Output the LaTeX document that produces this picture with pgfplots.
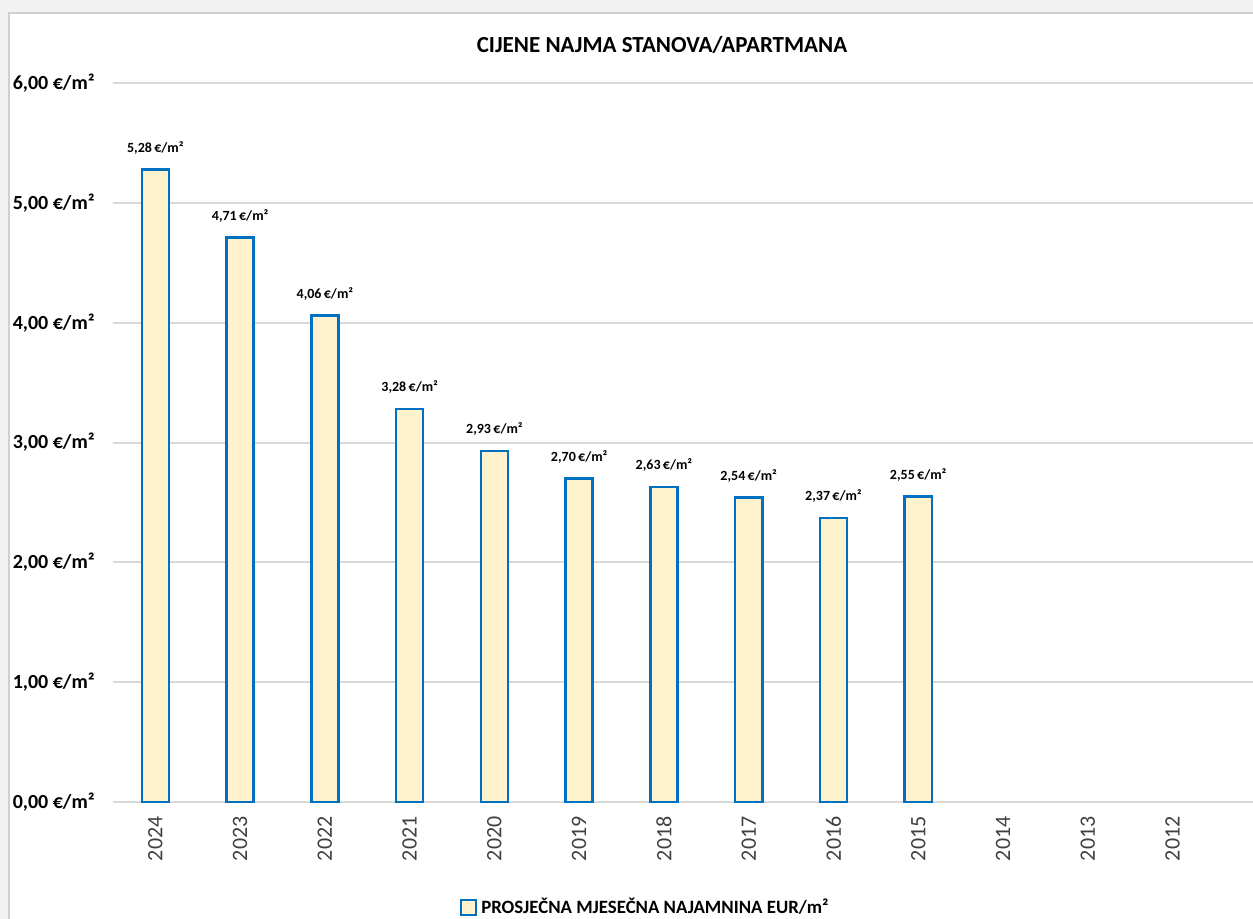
\documentclass[border=0pt]{standalone}
\usepackage{pgfplots}
\pgfplotsset{compat=1.18}
\usepackage{fontspec}
\setmainfont{Carlito}
\definecolor{barfill}{HTML}{FFF2CC}
\definecolor{barline}{HTML}{0070C0}
\definecolor{gridc}{HTML}{D9D9D9}
\definecolor{framec}{HTML}{D0D0D0}
\definecolor{shadec}{HTML}{F2F2F2}
\definecolor{ticktxt}{HTML}{404040}

\begin{document}
\begin{tikzpicture}
% 1 px of the reference = 0.5pt, y downwards
\useasboundingbox (0pt,0pt) rectangle (626.5pt,-459.5pt);
\fill[white] (0pt,0pt) rectangle (626.5pt,-459.5pt);
\fill[shadec] (0pt,0pt) -- (626.5pt,0pt) -- (626.5pt,-6.5pt) -- (4.5pt,-6.5pt)
  -- (4.5pt,-459.5pt) -- (0pt,-459.5pt) -- cycle;
\draw[framec, line width=0.8pt] (4.5pt,-463pt) -- (4.5pt,-6.5pt) -- (630pt,-6.5pt);

\node[font=\bfseries\fontsize{11.5}{13}\selectfont] at (331pt,-22.5pt) {CIJENE NAJMA STANOVA/APARTMANA};

\begin{axis}[
  at={(56.5pt,-401pt)}, anchor=south west,
  scale only axis, width=570pt, height=359.5pt,
  xmin=-0.5, xmax=12.95, ymin=0, ymax=6,
  clip=false,
  axis line style={draw=none},
  major tick length=0pt,
  ymajorgrids, major grid style={gridc, line width=1pt},
  ytick={0,1,2,3,4,5,6},
  yticklabels={{0,00 €/m²},{1,00 €/m²},{2,00 €/m²},{3,00 €/m²},{4,00 €/m²},{5,00 €/m²},{6,00 €/m²}},
  yticklabel style={font=\bfseries\fontsize{10}{12}\selectfont, anchor=east, inner sep=0pt},
  yticklabel shift=9pt,
  xtick={0,1,2,3,4,5,6,7,8,9,10,11,12},
  xticklabels={2024,2023,2022,2021,2020,2019,2018,2017,2016,2015,2014,2013,2012},
  xticklabel style={font=\fontsize{11}{13}\selectfont, text=ticktxt, rotate=90, anchor=east, inner sep=0pt},
  xticklabel shift=7pt,
  /pgf/number format/assume math mode=true,
  ybar, bar width=0.32,
  nodes near coords={\pgfmathprintnumber[fixed,fixed zerofill,precision=2,use comma]{\pgfplotspointmeta}\,€/m²},
  every node near coord/.append style={font=\bfseries\fontsize{7}{8}\selectfont, anchor=south, inner sep=0pt, yshift=7pt},
  legend style={at={(0.468,-0.147)}, anchor=center, draw=none, fill=none,
    font=\bfseries\fontsize{9.4}{11}\selectfont, inner sep=0pt,
    legend cell align=left},
  legend image code/.code={\draw[barline, fill=barfill, line width=1pt] (0pt,-3.7pt) rectangle (7.4pt,3.7pt);},
]
\addplot[draw=barline, fill=barfill, line width=1.25pt] coordinates {
  (0,5.28) (1,4.71) (2,4.06) (3,3.28) (4,2.93)
  (5,2.70) (6,2.63) (7,2.54) (8,2.37) (9,2.55)
};
\addlegendentry{PROSJEČNA MJESEČNA NAJAMNINA EUR/m²}
\end{axis}
\end{tikzpicture}
\end{document}
